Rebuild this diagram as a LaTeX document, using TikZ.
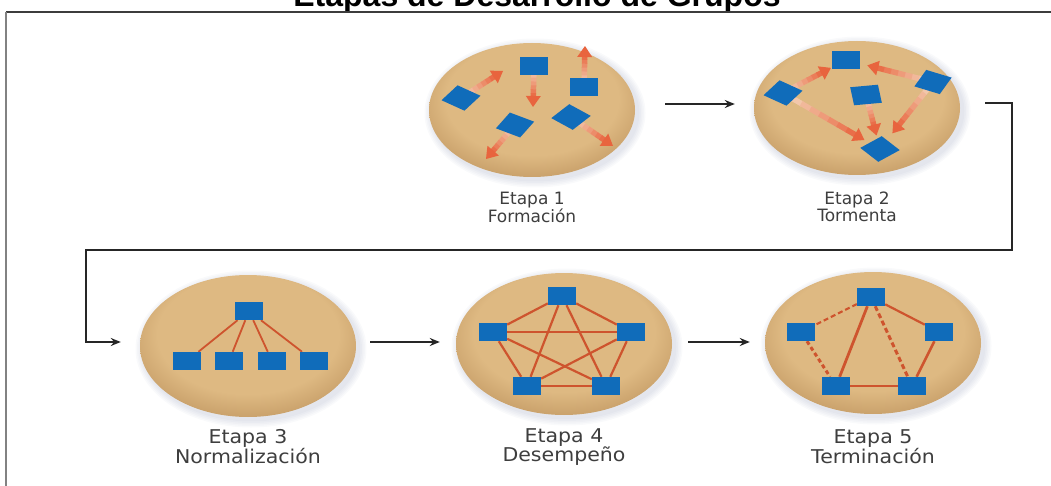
\documentclass[tikz,border=0pt]{standalone}
\usepackage{fontspec}
\setmainfont{DejaVu Sans}
\newfontfamily\titlefont{Liberation Sans}
\usetikzlibrary{shapes.geometric,arrows.meta,calc}

\definecolor{tanA}{RGB}{222,185,130}
\definecolor{tanB}{RGB}{202,162,108}
\definecolor{sqblue}{RGB}{16,108,186}
\definecolor{linkc}{RGB}{206,84,46}
\definecolor{pullc}{RGB}{232,100,62}
\definecolor{pale}{RGB}{244,214,186}
\definecolor{glowc}{RGB}{110,122,160}
\definecolor{labc}{RGB}{62,62,62}
\definecolor{framec}{RGB}{60,60,60}
\definecolor{edgec}{RGB}{130,130,130}

\pgfdeclareradialshading{tanshade}{\pgfpoint{0bp}{7bp}}{color(0bp)=(tanA); color(21bp)=(tanA); color(28bp)=(tanB); color(50bp)=(tanB)}

\pgfdeclarelayer{back}
\pgfdeclarelayer{links}
\pgfsetlayers{back,links,main}

% fading pull arrow from member #1 towards #2, stopping #3 short
\newcommand\pull[3]{%
  \path ($(#2)!#3!(#1)$) coordinate (pe);
  \path ($(pe)!10pt!(#1)$) coordinate (pm);
  \foreach \k in {0,...,7}{%
    \pgfmathtruncatemacro\mix{100-13*\k}
    \draw[draw=pale!\mix!pullc, line width=5.5pt] ($(#1)!\k/8!(pm)$) -- ($(#1)!\k/8+0.14!(pm)$);
  }
  \draw[pulltip] (pm) -- (pe);
}

\begin{document}
\begin{tikzpicture}[x=1pt, y=-1pt, thick,
    stage/.style 2 args={ellipse, shade, shading=tanshade, minimum width=#1, minimum height=#2, inner sep=0pt},
    sq/.style={fill=sqblue, minimum width=28pt, minimum height=28pt, inner sep=0pt, yscale=.65},
    link/.style={draw=linkc, line width=2.2pt},
    pulltip/.style={-{Triangle[length=11pt,width=15pt,line width=0pt]}, line width=5.5pt, draw=pullc},
    flow/.style={-{Stealth[length=10pt,width=8pt]}, line width=2pt, draw=black!85},
    lab/.style={align=center, text=labc, inner sep=0pt, font=\fontsize{17}{17}\selectfont},
    labb/.style={lab, font=\fontsize{19}{18}\selectfont, xscale=1.08}]
    \useasboundingbox (0,0) rectangle (1051,486);
    \clip (0,0) rectangle (1051,486);

    \node[font=\titlefont\bfseries\fontsize{32}{32}\selectfont, anchor=base] (title) at (537,7) {Etapas de Desarrollo de Grupos};
    \draw[line width=1.5pt, framec] (6,12) -- (1051,12);
    \draw[line width=2pt, edgec] (6,12) -- (6,486);

    \begin{pgfonlayer}{back}
        \foreach \x/\y/\w/\h in {532/110/103/67, 857/108/103/67, 248/346/108/71, 564/344/108/71, 873/343/108/71}
            \foreach \s in {1,...,5}
                \fill[glowc, opacity=.04] (\x+3,\y+3) ellipse ({(\w+1.5*\s)*1pt} and {(\h+1.5*\s)*1pt});
        \node[stage={206pt}{134pt}] (et1) at (532,110) {};
        \node[stage={206pt}{134pt}] (et2) at (857,108) {};
        \node[stage={216pt}{142pt}] (et3) at (248,346) {};
        \node[stage={216pt}{142pt}] (et4) at (564,344) {};
        \node[stage={216pt}{142pt}] (et5) at (873,343) {};
    \end{pgfonlayer}

    % Etapa 1
    \node[sq] (m1a) at (534,66) {};
    \node[sq] (m1b) at (584,87) {};
    \node[sq, rotate=-35] (m1c) at (461,98) {};
    \node[sq, rotate=-30] (m1d) at (515,125) {};
    \node[sq, rotate=-40] (m1e) at (571,117) {};
    \coordinate (f1a) at (533,107);
    \coordinate (f1b) at (585,46);
    \coordinate (f1c) at (503,71);
    \coordinate (f1d) at (486,159);
    \coordinate (f1e) at (613,146);

    % Etapa 2
    \node[sq] (m2a) at (846,60) {};
    \node[sq, rotate=-35] (m2b) at (783,93) {};
    \node[sq, rotate=8] (m2c) at (866,95) {};
    \node[sq, rotate=-25] (m2d) at (933,82) {};
    \node[sq, rotate=40] (m2e) at (880,149) {};

    % Etapa 3
    \node[sq] (m3t) at (249,311) {};
    \node[sq] (m3a) at (187,361) {};
    \node[sq] (m3b) at (229,361) {};
    \node[sq] (m3c) at (272,361) {};
    \node[sq] (m3d) at (314,361) {};

    % Etapa 4
    \node[sq] (m4a) at (562,296) {};
    \node[sq] (m4b) at (493,332) {};
    \node[sq] (m4c) at (631,332) {};
    \node[sq] (m4d) at (527,386) {};
    \node[sq] (m4e) at (606,386) {};

    % Etapa 5
    \node[sq] (m5a) at (871,297) {};
    \node[sq] (m5b) at (801,332) {};
    \node[sq] (m5c) at (939,332) {};
    \node[sq] (m5d) at (836,386) {};
    \node[sq] (m5e) at (912,386) {};

    \begin{pgfonlayer}{links}
        \foreach \b in {a,b,c,d,e}{
            \pull{m1\b}{f1\b}{0pt}
        }
        \pull{m2b}{m2a}{17pt}
        \pull{m2d}{m2a}{22pt}
        \pull{m2b}{m2e}{18pt}
        \pull{m2c}{m2e}{14pt}
        \pull{m2d}{m2e}{20pt}

        \foreach \b in {a,b,c,d}
            \draw[link, line width=1.8pt] (m3t) -- (m3\b);

        \foreach \a/\b in {a/b,a/c,a/d,a/e,b/c,b/d,b/e,c/d,c/e}
            \draw[link] (m4\a) -- (m4\b);
        \draw[link, line width=1.4pt] (m4d) -- (m4e);

        \draw[link, dash pattern=on 5pt off 3pt] (m5a) -- (m5b);
        \draw[link, line width=3pt, dash pattern=on 4pt off 3pt] (m5b) -- (m5d);
        \draw[link, line width=2.8pt] (m5a) -- (m5d);
        \draw[link, line width=3pt, dash pattern=on 5pt off 3pt] (m5a) -- (m5e);
        \draw[link] (m5a) -- (m5c);
        \draw[link, line width=2.6pt] (m5c) -- (m5e);
        \draw[link, line width=1.4pt] (m5d) -- (m5e);
    \end{pgfonlayer}

    \node[lab] (l1) at (532,207) {Etapa 1\\Formación};
    \node[lab] (l2) at (857,207) {Etapa 2\\Tormenta};
    \node[labb] (l3) at (248,447) {Etapa 3\\Normalización};
    \node[labb] (l4) at (564,447) {Etapa 4\\Desempeño};
    \node[labb] (l5) at (873,447) {Etapa 5\\Terminación};

    \coordinate (ne) at (1012,250);
    \coordinate (nw) at (86,250);
    \draw[flow] ([xshift=30pt,yshift=6pt]et1.east) -- ([xshift=-19pt,yshift=4pt]et2.west);
    \draw[flow] ([xshift=25pt,yshift=5pt]et2.east) -| (ne) -- (nw) |- ([xshift=-19pt,yshift=4pt]et3.west);
    \draw[flow] ([xshift=14pt,yshift=4pt]et3.east) -- ([xshift=-16pt,yshift=2pt]et4.west);
    \draw[flow] ([xshift=16pt,yshift=2pt]et4.east) -- ([xshift=-15pt,yshift=1pt]et5.west);
\end{tikzpicture}
\end{document}
